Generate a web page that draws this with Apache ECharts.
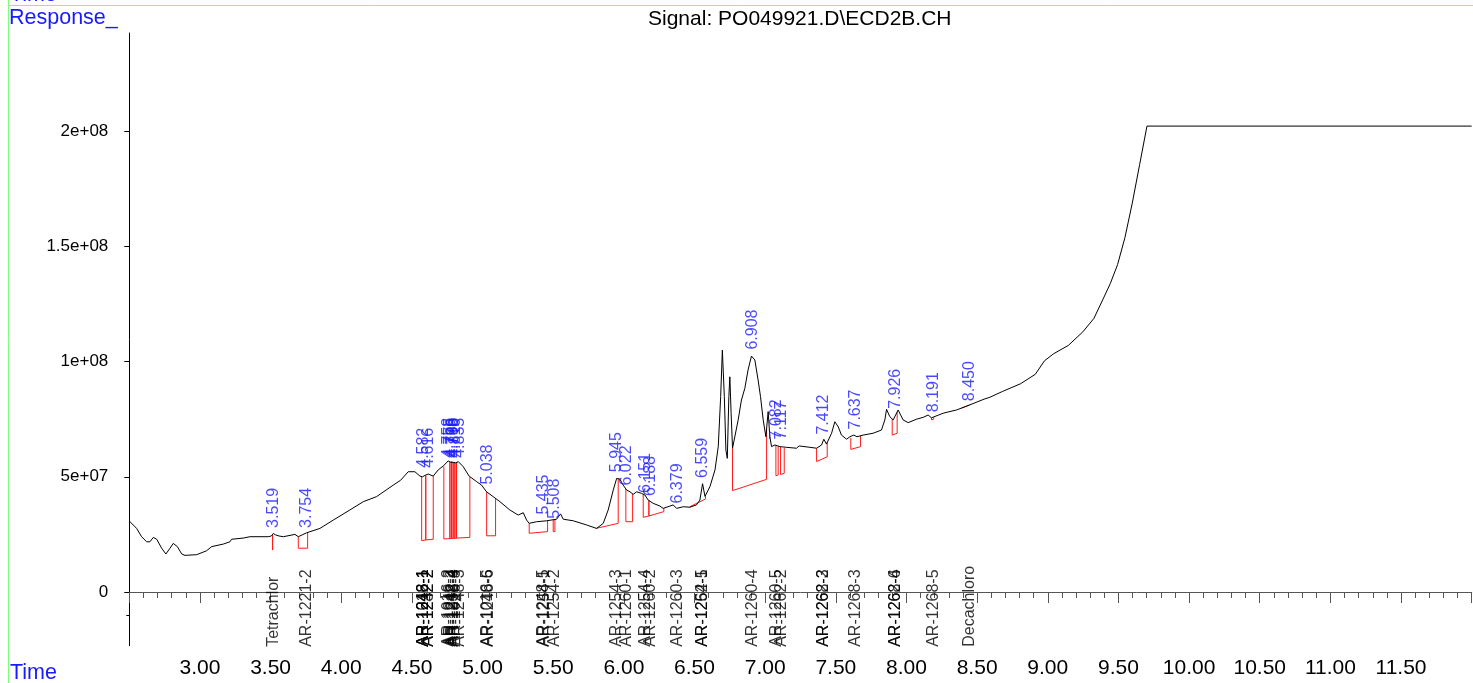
<!DOCTYPE html>
<html>
<head>
<meta charset="utf-8">
<script src="https://cdn.jsdelivr.net/npm/echarts@6/dist/echarts.min.js"></script>
<style>
html,body{margin:0;padding:0;background:#fff;}
#chart{width:1473px;height:683px;}
</style>
</head>
<body>
<div id="chart"></div>
<script>
// response values are in millions of counts
var RESP_UNIT = 1e6;

// signal trace
var sigTime = [2.500,2.552,2.587,2.623,2.646,2.670,2.694,2.729,2.759,2.788,2.811,2.840,2.871,2.894,2.977,3.047,3.083,3.165,3.212,3.224,3.306,3.354,3.483,3.505,3.519,3.535,3.560,3.590,3.672,3.696,3.755,3.849,3.943,4.061,4.156,4.250,4.368,4.420,4.474,4.521,4.557,4.575,4.592,4.615,4.651,4.686,4.722,4.757,4.775,4.792,4.810,4.828,4.863,4.905,4.958,4.993,5.028,5.075,5.123,5.193,5.252,5.288,5.312,5.330,5.382,5.453,5.524,5.552,5.571,5.642,5.736,5.807,5.854,5.889,5.925,5.949,5.972,5.995,6.019,6.043,6.066,6.090,6.125,6.149,6.172,6.207,6.255,6.278,6.326,6.349,6.373,6.420,6.467,6.514,6.538,6.557,6.574,6.609,6.645,6.668,6.685,6.697,6.711,6.722,6.732,6.743,6.750,6.759,6.769,6.778,6.809,6.832,6.856,6.879,6.903,6.927,6.950,6.967,6.986,7.005,7.021,7.033,7.045,7.069,7.104,7.150,7.222,7.240,7.316,7.364,7.399,7.415,7.434,7.470,7.493,7.517,7.540,7.576,7.600,7.611,7.627,7.650,7.693,7.764,7.823,7.847,7.859,7.882,7.906,7.941,7.976,8.012,8.071,8.118,8.153,8.177,8.190,8.260,8.354,8.448,8.549,8.590,8.678,8.808,8.912,8.976,9.041,9.145,9.248,9.326,9.391,9.442,9.494,9.546,9.598,9.650,9.702,12.000];
var sigResp = [30.8,27.6,24.0,21.8,21.8,23.7,22.9,19.0,16.5,19.0,21.1,19.7,16.5,15.9,16.2,17.9,19.7,20.8,21.8,22.9,23.4,24.0,24.0,24.3,25.4,24.8,24.3,24.0,25.0,24.0,25.7,27.6,31.2,35.6,39.2,41.4,46.4,48.5,52.2,52.2,50.3,50.0,50.6,51.2,50.3,53.0,54.7,56.9,56.3,56.3,56.0,56.6,54.4,50.3,47.9,46.4,43.5,41.4,39.2,35.6,33.4,34.4,31.2,29.8,30.5,30.9,31.6,33.9,31.6,30.9,29.1,27.6,29.8,35.6,44.3,49.3,49.0,46.4,44.3,43.5,42.4,43.5,42.8,42.1,39.9,38.5,37.3,36.3,37.3,37.8,36.3,37.0,36.8,37.8,39.9,47.0,41.5,45.7,53.0,63.1,84.8,105.0,84.8,61.6,58.0,84.8,93.4,77.6,62.4,63.1,74.7,83.3,88.4,96.4,102.4,100.7,92.0,84.8,74.7,67.4,78.3,67.4,63.1,63.8,63.1,62.8,62.4,63.4,62.8,62.4,63.8,66.3,64.2,68.9,73.9,71.7,68.1,66.3,67.4,66.7,68.1,67.4,68.1,68.9,70.3,74.7,79.3,76.1,74.7,79.0,74.7,73.5,75.0,75.8,76.8,75.6,75.8,77.6,79.0,81.2,83.7,84.5,87.0,90.4,94.5,100.3,103.4,107.0,112.9,118.7,127.1,133.8,142.1,153.8,168.8,185.5,202.2,202.2];

// retention times printed above the peaks
var rtTimes = [3.519,3.754,4.582,4.616,4.758,4.775,4.786,4.798,4.810,4.835,5.038,5.435,5.508,5.945,6.022,6.151,6.188,6.379,6.559,6.908,7.082,7.117,7.412,7.637,7.926,8.191,8.450];
var rtLabelResp = [27.6,27.6,53.7,53.7,58.0,58.0,58.0,58.0,58.0,58.0,46.4,33.4,31.6,51.8,46.0,42.8,41.4,38.2,49.3,105.0,66.0,66.0,68.1,70.3,79.3,77.8,82.6];

// compound names along the bottom
var cmpNames = ["Tetrachlor","AR-1221-2","AR-1016-1","AR-1242-1","AR-1248-1","AR-1232-2","AR-1242-2","AR-1016-2","AR-1242-3","AR-1248-2","AR-1232-4","AR-1016-3","AR-1248-3","AR-1016-5","AR-1248-6","AR-1248-5","AR-1254-1","AR-1254-2","AR-1254-3","AR-1260-1","AR-1254-4","AR-1260-2","AR-1260-3","AR-1254-5","AR-1262-1","AR-1260-4","AR-1260-5","AR-1262-2","AR-1262-3","AR-1268-2","AR-1268-3","AR-1262-6","AR-1268-4","AR-1268-5","Decachloro"];
var cmpTimes = [3.519,3.754,4.582,4.582,4.585,4.616,4.616,4.758,4.775,4.786,4.798,4.810,4.835,5.038,5.040,5.435,5.437,5.508,5.945,6.022,6.151,6.188,6.379,6.559,6.559,6.908,7.082,7.117,7.412,7.412,7.637,7.926,7.926,8.191,8.450];
var cmpLabelResp = -24.0;

// integration events: start/end time, baseline and trace values at both ends
var intStart     = [3.514,3.696,4.569,4.598,4.726,4.769,4.781,4.792,4.804,4.816,5.029,5.330,5.500,5.802,6.014,6.137,6.177,6.467,6.769,7.076,7.109,7.364,7.606,7.899,8.177,8.390];
var intEnd       = [3.514,3.762,4.598,4.651,4.769,4.781,4.792,4.804,4.816,4.910,5.092,5.460,5.512,5.960,6.062,6.177,6.283,6.578,7.010,7.092,7.135,7.439,7.675,7.934,8.193,8.448];
var intBaseStart = [18.2,19.0,22.3,22.6,23.0,23.2,23.2,23.3,23.3,23.4,24.4,25.5,26.2,27.6,30.5,32.4,33.0,37.0,44.0,50.5,51.0,56.6,61.9,68.1,74.7,79.8];
var intBaseEnd   = [18.2,19.0,22.6,22.9,23.2,23.2,23.3,23.3,23.4,23.7,24.4,26.2,26.2,29.8,30.5,33.0,34.9,40.4,48.9,50.8,51.5,58.7,63.1,68.9,75.0,81.2];
var intTopStart  = [25.0,24.0,49.9,50.5,54.5,56.5,56.6,56.4,56.2,56.4,43.5,29.8,31.4,27.6,44.7,42.4,39.7,36.8,62.4,63.6,63.0,62.4,66.9,75.1,75.6,79.8];
var intTopEnd    = [25.0,25.9,50.5,50.3,56.5,56.6,56.4,56.2,56.4,49.9,40.4,31.0,31.4,49.2,42.6,39.7,36.4,41.6,71.0,63.2,62.5,65.0,67.8,78.0,75.8,81.2];

// axes
var xMin = 2.5, xMax = 12.0, xInterval = 0.5;
var yMin = -23.3, yMax = 242.6;
var yTickValues = [0, 50, 100, 150, 200];
var yExtraTicks = [-10];

var FONT = "Liberation Sans";
var BLUE = "#1a1aff";

var sigData = [];
for (var i = 0; i < sigTime.length; i++) {
	sigData.push([sigTime[i], sigResp[i] * RESP_UNIT]);
}

var intLines = [];
for (var i = 0; i < intStart.length; i++) {
	intLines.push({coords: [
		[intStart[i], intTopStart[i] * RESP_UNIT],
		[intStart[i], intBaseStart[i] * RESP_UNIT],
		[intEnd[i], intBaseEnd[i] * RESP_UNIT],
		[intEnd[i], intTopEnd[i] * RESP_UNIT]
	]});
}

var rtData = [];
for (var i = 0; i < rtTimes.length; i++) {
	rtData.push([rtTimes[i], rtLabelResp[i] * RESP_UNIT]);
}

var cmpData = [];
for (var i = 0; i < cmpTimes.length; i++) {
	cmpData.push({value: [cmpTimes[i], cmpLabelResp * RESP_UNIT], name: cmpNames[i]});
}

var yMajor = [];
for (var i = 0; i < yTickValues.length; i++) {
	yMajor.push(yTickValues[i] * RESP_UNIT);
}
var yExtra = [];
for (var i = 0; i < yExtraTicks.length; i++) {
	yExtra.push(yExtraTicks[i] * RESP_UNIT);
}

function expLabel(value) {
	if (value === 0) {
		return "0";
	}
	return value.toExponential().replace(/e([+-])(\d)$/, "e$10$2");
}

function vLabel(color) {
	return {
		show: true,
		position: "top",
		distance: 0,
		rotate: 90,
		align: "left",
		verticalAlign: "middle",
		fontFamily: FONT,
		fontSize: 16,
		color: color
	};
}

var chart = echarts.init(document.getElementById("chart"), null, {renderer: "canvas"});

var rtLabel = vLabel(BLUE);
rtLabel.formatter = function (p) { return p.value[0].toFixed(3); };
var cmpLabel = vLabel("#000");
cmpLabel.formatter = function (p) { return p.name; };

var option = {
	animation: false,
	backgroundColor: "#fff",
	title: {
		text: "Signal: PO049921.D\\ECD2B.CH",
		left: 648,
		top: 9,
		padding: 0,
		textStyle: {fontFamily: FONT, fontSize: 21, fontWeight: "normal", color: "#000"}
	},
	grid: {left: 129.3, right: 1.3, top: 33, bottom: 37.3},
	xAxis: {
		type: "value",
		min: xMin,
		max: xMax,
		interval: xInterval,
		axisLine: {lineStyle: {color: "#555", width: 1}},
		axisTick: {length: 11, lineStyle: {color: "#555"}},
		minorTick: {show: true, splitNumber: 5, length: 6, lineStyle: {color: "#555"}},
		splitLine: {show: false},
		axisLabel: {
			showMinLabel: false,
			showMaxLabel: false,
			margin: 12,
			fontFamily: FONT,
			fontSize: 21,
			color: "#000",
			formatter: function (v) { return v.toFixed(2); }
		}
	},
	yAxis: [{
		type: "value",
		min: yMin * RESP_UNIT,
		max: yMax * RESP_UNIT,
		axisLine: {show: true, lineStyle: {color: "#000", width: 1}},
		axisTick: {show: true, length: 5, customValues: yMajor, lineStyle: {color: "#000"}},
		splitLine: {show: false},
		axisLabel: {
			customValues: yMajor,
			margin: 21,
			fontFamily: FONT,
			fontSize: 17,
			color: "#000",
			formatter: expLabel
		}
	}, {
		type: "value",
		min: yMin * RESP_UNIT,
		max: yMax * RESP_UNIT,
		position: "left",
		axisLine: {show: false},
		axisTick: {show: true, length: 3, customValues: yExtra, lineStyle: {color: "#000"}},
		splitLine: {show: false},
		axisLabel: {show: false}
	}],
	series: [{
		name: "signal",
		type: "line",
		data: sigData,
		symbol: "none",
		lineStyle: {color: "#000", width: 1},
		z: 3
	}, {
		name: "integration",
		type: "lines",
		coordinateSystem: "cartesian2d",
		polyline: true,
		data: intLines,
		lineStyle: {color: "#ff1a1a", width: 1, opacity: 1},
		z: 2
	}, {
		name: "rt",
		type: "scatter",
		data: rtData,
		symbolSize: 1,
		clip: false,
		itemStyle: {color: "rgba(0,0,0,0)"},
		label: rtLabel,
		labelLayout: {hideOverlap: false},
		z: 4
	}, {
		name: "compounds",
		type: "scatter",
		data: cmpData,
		symbolSize: 1,
		clip: false,
		itemStyle: {color: "rgba(0,0,0,0)"},
		label: cmpLabel,
		labelLayout: {hideOverlap: false},
		z: 4
	}],
	graphic: [
		{type: "line", shape: {x1: 8.5, y1: 5.5, x2: 1473, y2: 5.5}, style: {stroke: "#7dff7d", lineWidth: 1}},
		{type: "line", shape: {x1: 8.5, y1: 0, x2: 8.5, y2: 683}, style: {stroke: "#7dff7d", lineWidth: 1}},
		{type: "text", left: 10, top: -16, style: {text: "Time", fontFamily: FONT, fontSize: 21.5, fill: BLUE}},
		{type: "text", left: 9, top: 7, style: {text: "Response_", fontFamily: FONT, fontSize: 21.5, fill: BLUE}},
		{type: "text", left: 10, top: 662, style: {text: "Time", fontFamily: FONT, fontSize: 21.5, fill: BLUE}}
	]
};

chart.setOption(option);
</script>
</body>
</html>
